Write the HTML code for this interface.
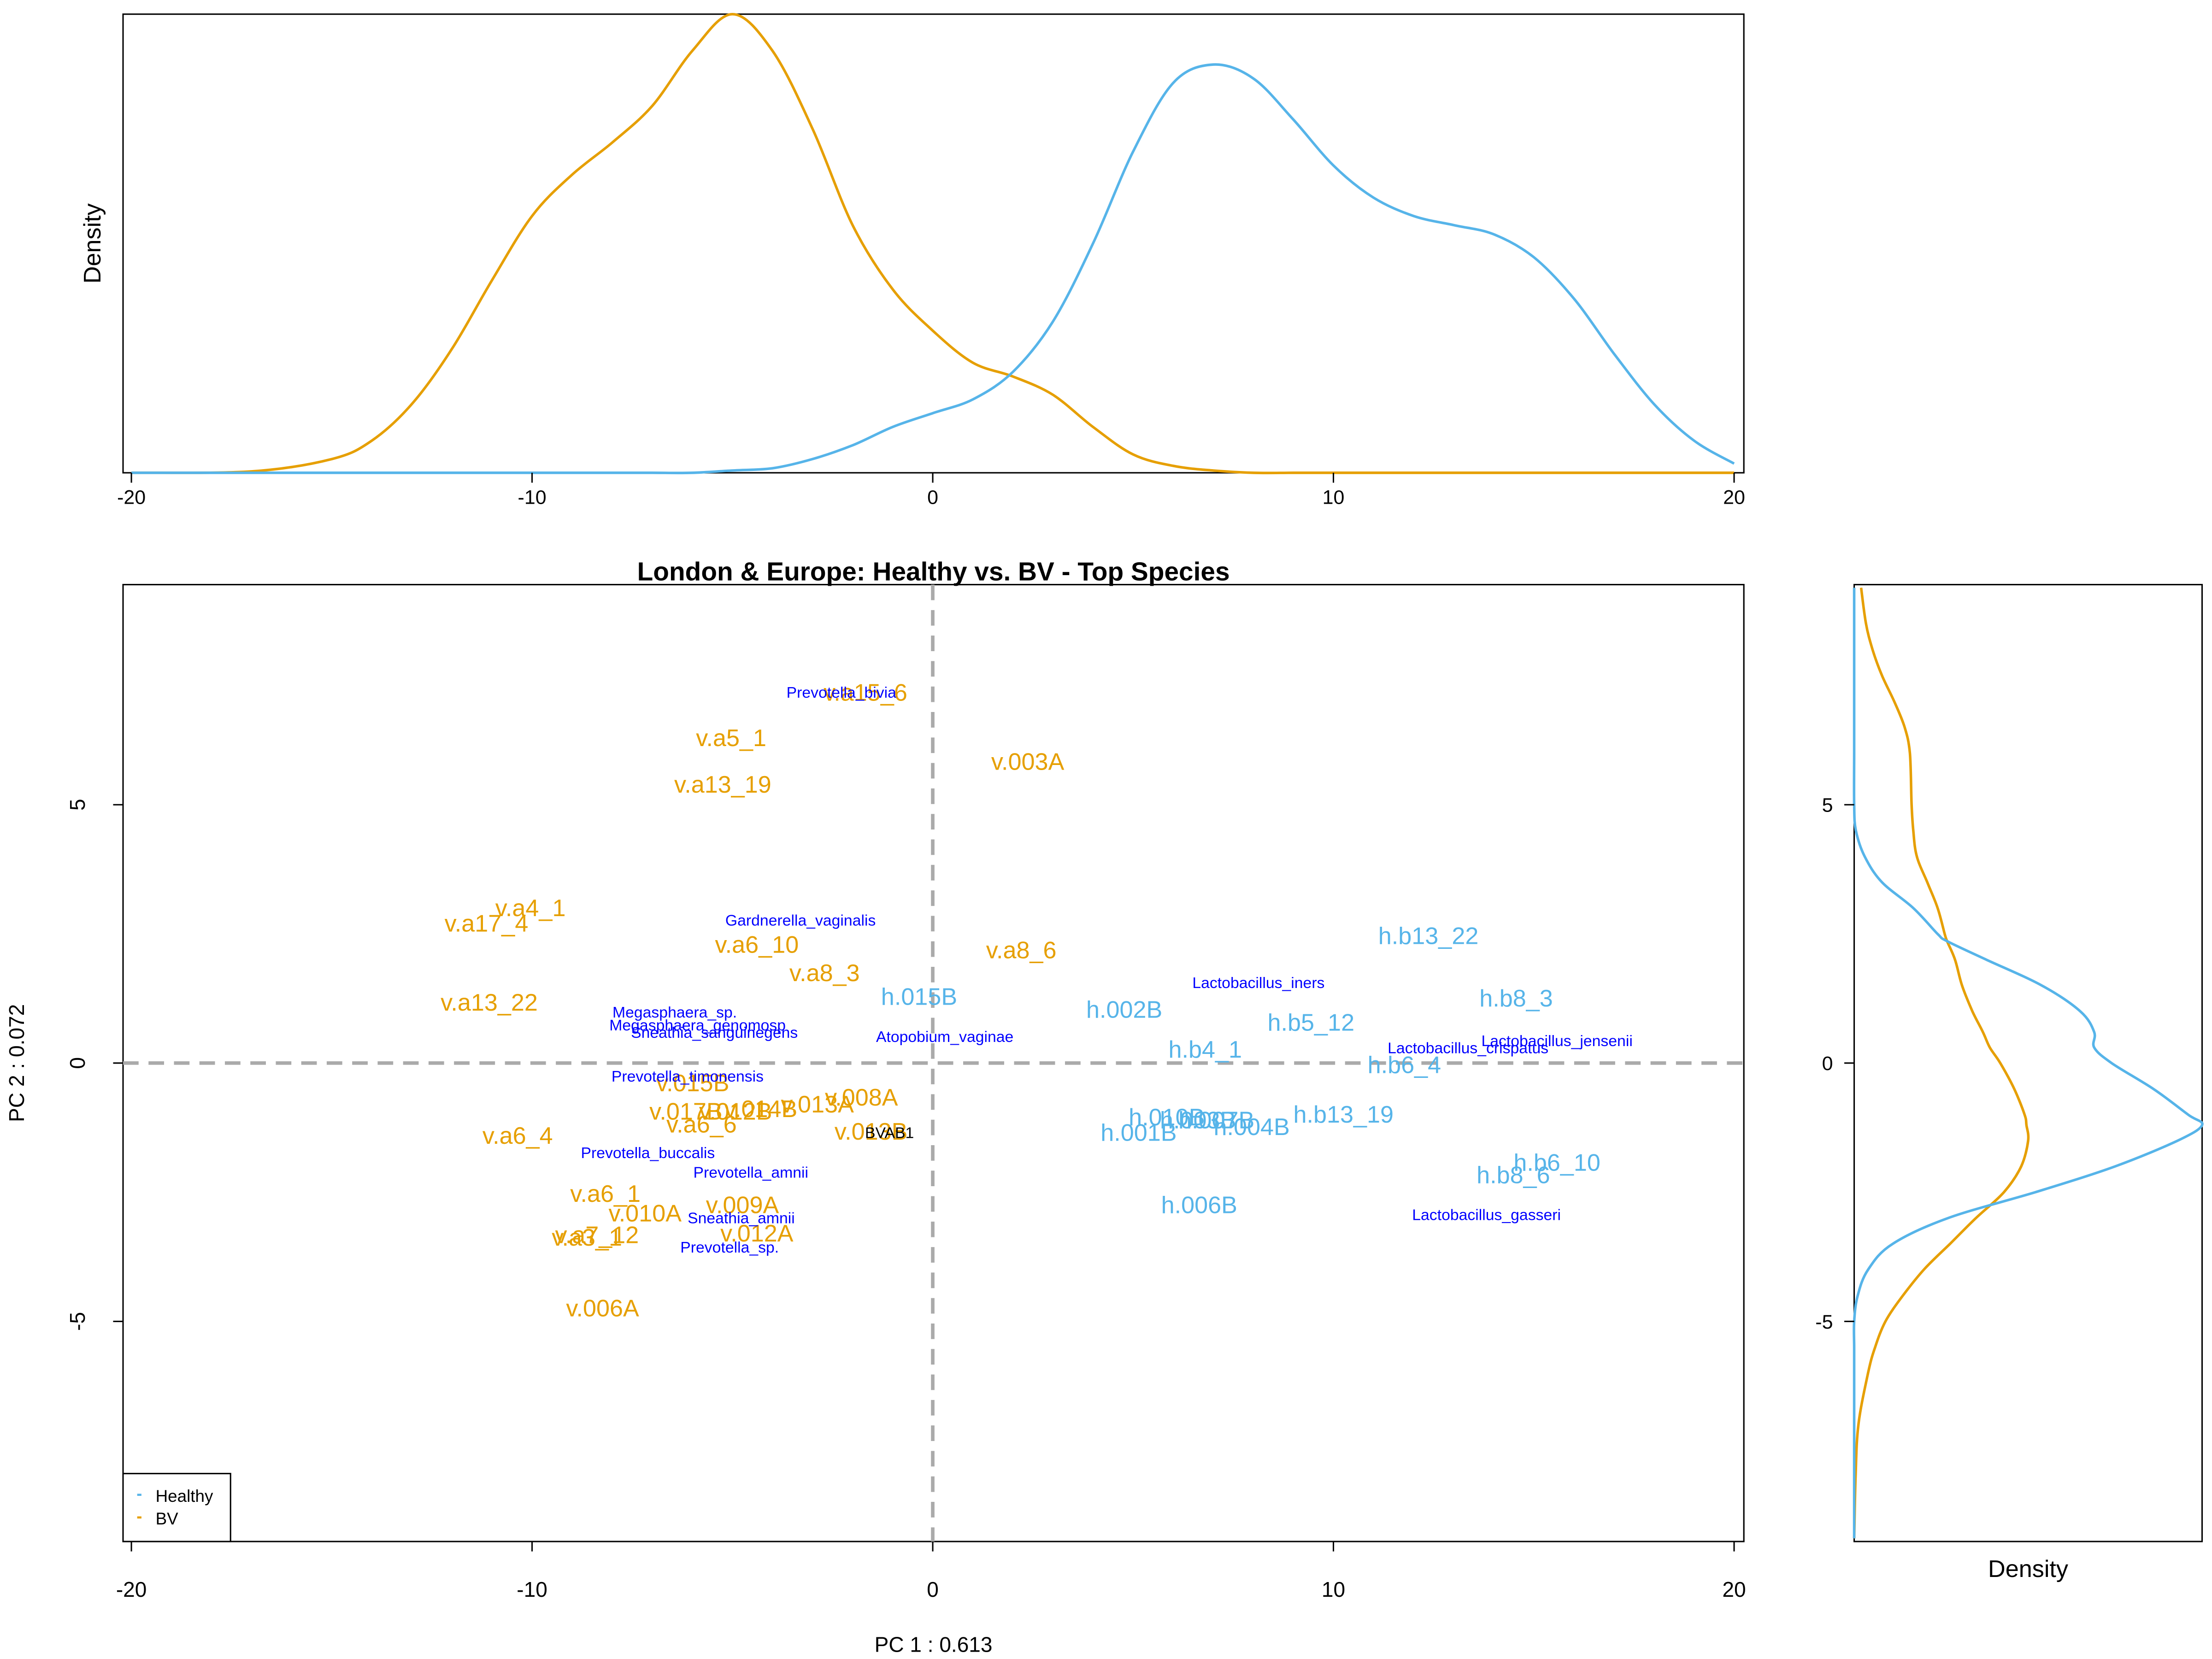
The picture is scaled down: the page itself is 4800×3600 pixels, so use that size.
<!DOCTYPE html>
<html><head><meta charset="utf-8"><style>
html,body{margin:0;padding:0;background:#fff}
svg{display:block;font-family:"Liberation Sans",Arial,sans-serif}
</style></head><body>
<svg id="chart" width="4800" height="3600" viewBox="0 0 1564 1172" preserveAspectRatio="none" xmlns="http://www.w3.org/2000/svg">
<rect x="0" y="0" width="1564" height="1172" fill="#fff"/>
<g id="gtop"></g><g id="gmain"></g><g id="gright"></g>
</svg>
<script>
// ---- data ----
const densX = [-20,-17,-15,-14,-13,-12,-11,-10,-9,-8,-7,-6,-5,-4,-3,-2,-1,0,1,2,3,4,5,6,7,8,9,10,11,12,13,14,15,16,17,18,19,20];
const densBV = [0,0.003,0.03,0.07,0.15,0.27,0.42,0.56,0.65,0.72,0.8,0.92,1.0,0.92,0.75,0.54,0.4,0.31,0.24,0.21,0.17,0.1,0.04,0.015,0.005,0,0,0,0,0,0,0,0,0,0,0,0,0];
const densHealthy = [0,0,0,0,0,0,0,0,0,0,0,0,0.005,0.01,0.03,0.06,0.1,0.13,0.16,0.22,0.33,0.5,0.7,0.85,0.89,0.86,0.77,0.67,0.6,0.56,0.54,0.52,0.47,0.38,0.26,0.15,0.07,0.02];
const densY = [9.2,8.5,8,7.5,7,6.5,6,5,4.5,4,3.5,3,2.5,2.36,2,1.5,1,0.6,0.3,0,-0.5,-1,-1.2,-1.5,-2,-2.5,-3,-3.5,-4,-4.5,-5,-5.5,-6,-7,-8,-9.2];
const rBV = [0.02,0.034,0.053,0.08,0.115,0.145,0.16,0.165,0.17,0.18,0.21,0.24,0.26,0.267,0.29,0.31,0.34,0.37,0.39,0.42,0.46,0.49,0.495,0.5,0.48,0.43,0.35,0.275,0.2,0.14,0.09,0.06,0.04,0.012,0.004,0];
const rHealthy = [0,0,0,0,0,0,0,0,0.005,0.03,0.08,0.17,0.24,0.267,0.38,0.54,0.65,0.69,0.69,0.74,0.86,0.96,1.0,0.93,0.75,0.52,0.27,0.11,0.04,0.01,0,0,0,0,0,0];
const bvLabels = ["v.a15_6","v.a5_1","v.003A","v.a13_19","v.a4_1","v.a17_4","v.a6_10","v.a8_6","v.a8_3","v.a13_22","v.008A","v.013A","v.014B","v.015B","v.017B","v.012B","v.a6_6","v.013B","v.a6_4","v.a6_1","v.009A","v.010A","v.012A","v.a7_12","v.a3_1","v.006A"];
const bvPC1 = [-1.68,-5.03,2.37,-5.24,-10.04,-11.14,-4.39,2.21,-2.70,-11.07,-1.78,-2.88,-4.29,-5.99,-6.16,-4.92,-5.77,-1.54,-10.36,-8.17,-4.75,-7.18,-4.39,-8.38,-8.63,-8.24];
const bvPC2 = [7.18,6.30,5.84,5.40,3.01,2.71,2.30,2.19,1.75,1.18,-0.66,-0.79,-0.88,-0.38,-0.93,-0.93,-1.18,-1.32,-1.40,-2.52,-2.74,-2.90,-3.29,-3.32,-3.37,-4.74];
const hLabels = ["h.015B","h.002B","h.b13_22","h.b8_3","h.b5_12","h.b4_1","h.b6_4","h.b13_19","h.010B","h.003B","h.007B","h.004B","h.001B","h.b6_10","h.b8_6","h.006B"];
const hPC1 = [-0.34,4.78,12.37,14.56,9.44,6.80,11.77,10.25,5.84,6.62,7.08,7.96,5.14,15.58,14.49,6.65];
const hPC2 = [1.29,1.04,2.47,1.26,0.79,0.27,-0.03,-0.99,-1.04,-1.10,-1.10,-1.23,-1.34,-1.92,-2.16,-2.74];
const spLabels = ["Prevotella_bivia","Gardnerella_vaginalis","Lactobacillus_iners","Megasphaera_sp.","Megasphaera_genomosp","Sneathia_sanguinegens","Atopobium_vaginae","Lactobacillus_jensenii","Lactobacillus_crispatus","Prevotella_timonensis","BVAB1","Prevotella_buccalis","Prevotella_amnii","Sneathia_amnii","Lactobacillus_gasseri","Prevotella_sp."];
const spPC1 = [-2.28,-3.30,8.13,-6.44,-5.87,-5.45,0.30,15.58,13.36,-6.12,-1.08,-7.11,-4.54,-4.78,13.82,-5.07];
const spPC2 = [7.18,2.77,1.56,0.99,0.74,0.60,0.52,0.44,0.30,-0.25,-1.34,-1.73,-2.11,-2.99,-2.93,-3.56];
const xTicks = [-20,-10,0,10,20];
const yTicks = [-5,0,5];

const ORANGE="#E69F00", BLUE="#56B4E9", NS="http://www.w3.org/2000/svg";
const X = v => 659.5 + v*28.33;
const Y = v => 751 - v*36.5;
const TY = d => 334 - d*324;
const RX = d => 1311 + d*246;
function mk(parent, tag, attrs, text){
  const e=document.createElementNS(NS,tag);
  for(const k in attrs) e.setAttribute(k,attrs[k]);
  if(text!==undefined) e.textContent=text;
  parent.appendChild(e); return e;
}
function smooth(pts){
  let s='M'+pts[0][0].toFixed(1)+','+pts[0][1].toFixed(1);
  for(let i=0;i<pts.length-1;i++){
    const p0=pts[Math.max(0,i-1)],p1=pts[i],p2=pts[i+1],p3=pts[Math.min(pts.length-1,i+2)];
    const c1=[p1[0]+(p2[0]-p0[0])/6,p1[1]+(p2[1]-p0[1])/6];
    const c2=[p2[0]-(p3[0]-p1[0])/6,p2[1]-(p3[1]-p1[1])/6];
    s+='C'+c1[0].toFixed(1)+','+c1[1].toFixed(1)+' '+c2[0].toFixed(1)+','+c2[1].toFixed(1)+' '+p2[0].toFixed(1)+','+p2[1].toFixed(1);
  }
  return s;
}
const gTop=document.getElementById('gtop'), gMain=document.getElementById('gmain'), gRight=document.getElementById('gright');

// ---- top density ----
let f=mk(gTop,'rect',{x:87,y:10,width:1146,height:324,fill:'none',stroke:'#000','stroke-width':1});


function topPath(vals){return smooth(densX.map((x,i)=>[X(x),TY(vals[i])]));}
let p=mk(gTop,'path',{d:topPath(densBV),fill:'none',stroke:ORANGE,'stroke-width':1.8,'stroke-linejoin':'round'});


p=mk(gTop,'path',{d:topPath(densHealthy),fill:'none',stroke:BLUE,'stroke-width':1.8,'stroke-linejoin':'round'});


xTicks.forEach(t=>{
  mk(gTop,'line',{x1:X(t),x2:X(t),y1:334,y2:341,stroke:'#000'});
  let l=mk(gTop,'text',{x:X(t),y:356,'font-size':14,'text-anchor':'middle'},String(t));
  
  
});
let t=mk(gTop,'text',{x:0,y:0,'font-size':17,'text-anchor':'middle',transform:'translate(71,172) rotate(-90)'},'Density');



// ---- main ----
f=mk(gMain,'rect',{x:87,y:413,width:1146,height:676,fill:'none',stroke:'#000','stroke-width':1});


let d=mk(gMain,'line',{x1:87,x2:1233,y1:Y(0),y2:Y(0),stroke:'#aaa','stroke-width':2.5,'stroke-dasharray':'11,7'});


d=mk(gMain,'line',{x1:X(0),x2:X(0),y1:413,y2:1089,stroke:'#aaa','stroke-width':2.5,'stroke-dasharray':'11,7'});


t=mk(gMain,'text',{x:660,y:410,'font-size':18.5,'font-weight':'bold','text-anchor':'middle'},'London & Europe: Healthy vs. BV - Top Species');


xTicks.forEach(v=>{
  mk(gMain,'line',{x1:X(v),x2:X(v),y1:1089,y2:1096,stroke:'#000'});
  let l=mk(gMain,'text',{x:X(v),y:1128,'font-size':15,'text-anchor':'middle'},String(v));
  
  
});
yTicks.forEach(v=>{
  mk(gMain,'line',{x1:80,x2:87,y1:Y(v),y2:Y(v),stroke:'#000'});
  let l=mk(gMain,'text',{x:0,y:0,'font-size':15,'text-anchor':'middle',transform:`translate(60,${Y(v)}) rotate(-90)`},String(v));
  
  
});
t=mk(gMain,'text',{x:660,y:1167,'font-size':15,'text-anchor':'middle'},'PC 1 :  0.613');


t=mk(gMain,'text',{x:0,y:0,'font-size':15,'text-anchor':'middle',transform:'translate(17,751) rotate(-90)'},'PC 2 :  0.072');


bvLabels.forEach((s,i)=>{
  let l=mk(gMain,'text',{x:X(bvPC1[i]),y:Y(bvPC2[i])+6,'font-size':17,fill:ORANGE,'text-anchor':'middle'},s);
  
  
});
hLabels.forEach((s,i)=>{
  let l=mk(gMain,'text',{x:X(hPC1[i]),y:Y(hPC2[i])+6,'font-size':17,fill:BLUE,'text-anchor':'middle'},s);
  
  
});
spLabels.forEach((s,i)=>{
  let l=mk(gMain,'text',{x:X(spPC1[i]),y:Y(spPC2[i])+4,'font-size':11,fill:s==='BVAB1'?'#000':'#0000ff','text-anchor':'middle'},s);
  
  
});
let lg=mk(gMain,'g',{});


mk(lg,'rect',{x:87,y:1041,width:76,height:48,fill:'#fff',stroke:'#000'});
mk(lg,'line',{x1:97,x2:100,y1:1056,y2:1056,stroke:BLUE,'stroke-width':1.5});
mk(lg,'line',{x1:97,x2:100,y1:1072,y2:1072,stroke:ORANGE,'stroke-width':1.5});
t=mk(lg,'text',{x:110,y:1061,'font-size':12},'Healthy');


t=mk(lg,'text',{x:110,y:1077,'font-size':12},'BV');



// ---- right density ----
f=mk(gRight,'rect',{x:1311,y:413,width:246,height:676,fill:'none',stroke:'#000','stroke-width':1});


function rPath(vals){return smooth(densY.map((y,i)=>[RX(vals[i]),Y(y)]));}
p=mk(gRight,'path',{d:rPath(rBV),fill:'none',stroke:ORANGE,'stroke-width':1.8,'stroke-linejoin':'round'});


p=mk(gRight,'path',{d:rPath(rHealthy),fill:'none',stroke:BLUE,'stroke-width':1.8,'stroke-linejoin':'round'});


yTicks.forEach(v=>{
  mk(gRight,'line',{x1:1304,x2:1311,y1:Y(v),y2:Y(v),stroke:'#000'});
  let l=mk(gRight,'text',{x:1296,y:Y(v)+5,'font-size':14,'text-anchor':'end'},String(v));
  
  
});
t=mk(gRight,'text',{x:1434,y:1114,'font-size':17,'text-anchor':'middle'},'Density');


</script>
</body></html>
